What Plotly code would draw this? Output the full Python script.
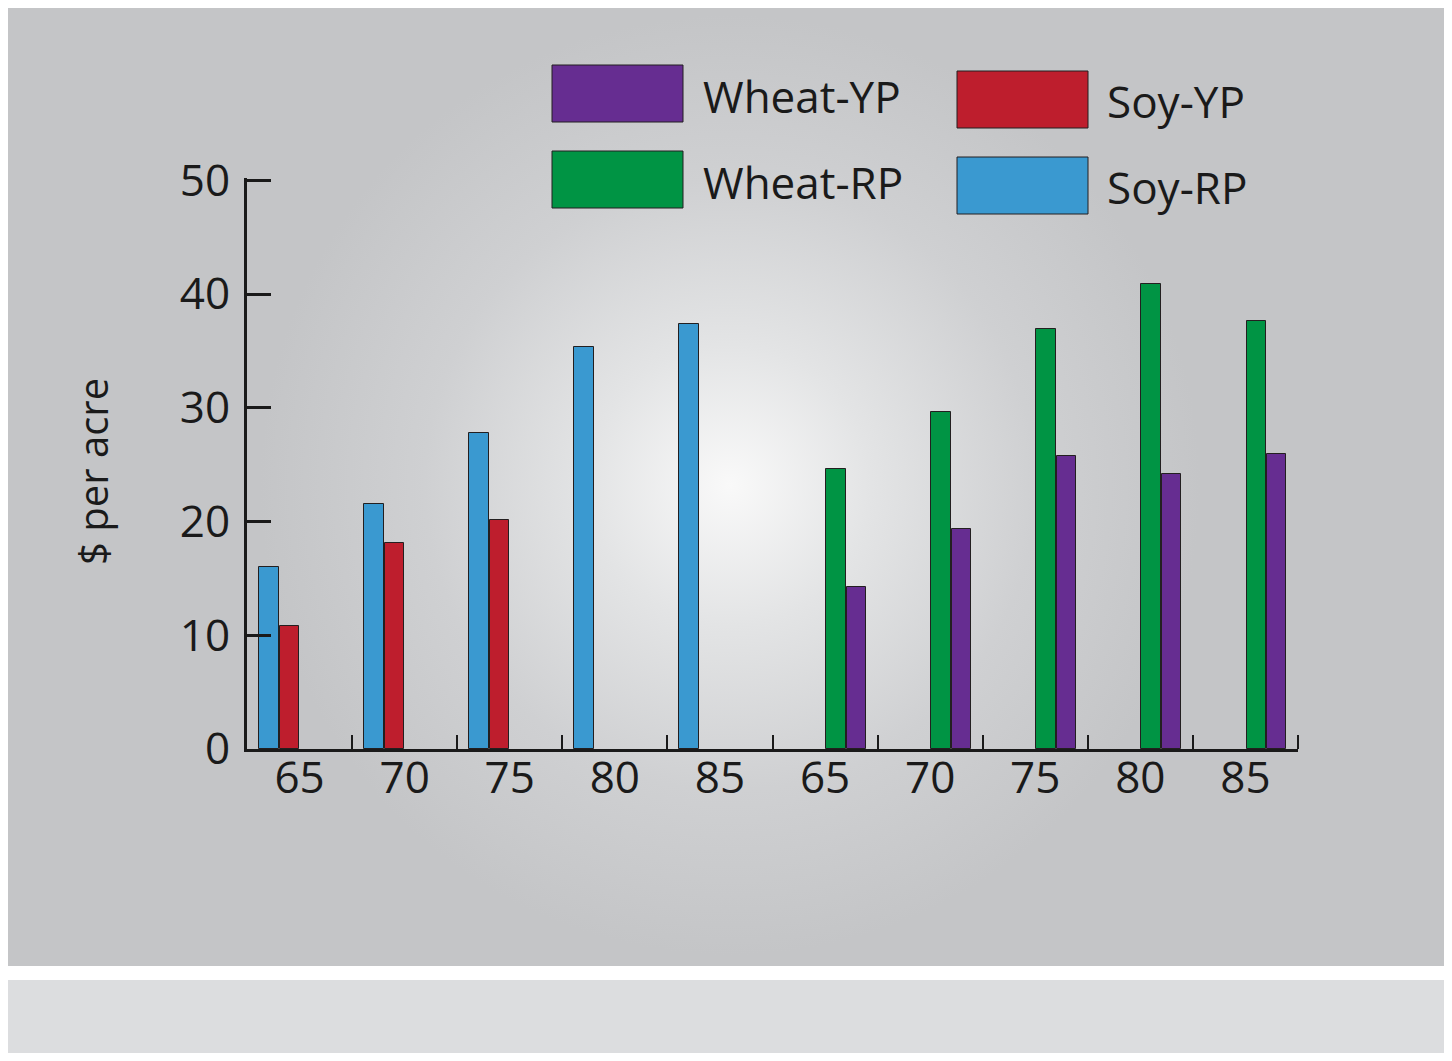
import base64
import plotly.graph_objects as go

# data ($ per acre)
years = ["65", "70", "75", "80", "85", "65", "70", "75", "80", "85"]
soy_groups = [0, 1, 2, 3, 4]
wheat_groups = [5, 6, 7, 8, 9]
soy_rp = [16.0, 21.5, 27.8, 35.3, 37.4]
soy_yp = [10.8, 18.1, 20.1, None, None]
wheat_rp = [24.6, 29.6, 36.9, 40.9, 37.6]
wheat_yp = [14.2, 19.3, 25.8, 24.2, 25.9]

colors = {"Wheat-YP": "#662d91", "Wheat-RP": "#009444",
          "Soy-YP": "#be1e2d", "Soy-RP": "#3a99d0"}

W, H = 1436, 1045          # page minus the 8px body margin
L, R, T, B = 239, 146, 170, 304
pw, ph = W - L - R, H - T - B
FONT = "Open Sans"
INK = "#1a1a1a"


def px(x, y):
    # page pixel -> paper coords
    return (x - 8 - L) / pw, (H - B - (y - 8)) / ph


fig = go.Figure()

def bars(xs, ys, name, offset):
    fig.add_trace(go.Bar(x=xs, y=ys, name=name, width=0.185, offset=offset,
                         marker=dict(color=colors[name], line=dict(color="#231f20", width=1)),
                         showlegend=False))

# soy pairs sit left of the label, wheat pairs right of it
bars(soy_groups, soy_rp, "Soy-RP", -0.385)
bars(soy_groups, soy_yp, "Soy-YP", -0.19)
bars(wheat_groups, wheat_rp, "Wheat-RP", 0.01)
bars(wheat_groups, wheat_yp, "Wheat-YP", 0.205)

# radial grey background as an svg image
svg = ('<svg xmlns="http://www.w3.org/2000/svg" width="1440" height="960">'
       '<defs><radialGradient id="g" gradientUnits="userSpaceOnUse" cx="724" cy="479" r="470">'
       '<stop offset="0" stop-color="#f9f9f9"/><stop offset="0.3" stop-color="#e3e4e5"/>'
       '<stop offset="0.65" stop-color="#cfd0d2"/><stop offset="1" stop-color="#c4c5c7"/>'
       '</radialGradient></defs><rect width="1440" height="960" fill="url(#g)"/></svg>')
src = "data:image/svg+xml;base64," + base64.b64encode(svg.encode()).decode()
x0, y0 = px(6, 6)
x1, y1 = px(1446, 966)
fig.add_layout_image(source=src, xref="paper", yref="paper", x=x0, y=y0,
                     sizex=x1 - x0, sizey=y0 - y1, xanchor="left", yanchor="top",
                     sizing="stretch", layer="below")

# lower light band
bx0, by0 = px(6, 980)
bx1, by1 = px(1446, 1061)
fig.add_shape(type="rect", xref="paper", yref="paper", x0=bx0, x1=bx1, y0=by0, y1=by1,
              fillcolor="#dcdddf", line=dict(width=0), layer="below")

# legend drawn by hand: big swatches
legend = [("Wheat-YP", 552, 65, 701, 96), ("Wheat-RP", 552, 151, 701, 182),
          ("Soy-YP", 957, 71, 1105, 101), ("Soy-RP", 957, 157, 1105, 187)]
for name, sx, sy, tx, ty in legend:
    a0, b0 = px(sx, sy)
    a1, b1 = px(sx + 131, sy + 57)
    fig.add_shape(type="rect", xref="paper", yref="paper", x0=a0, x1=a1, y0=b1, y1=b0,
                  fillcolor=colors[name], line=dict(color="#231f20", width=1))
    ax, ay = px(tx, ty)
    fig.add_annotation(text=name, xref="paper", yref="paper", x=ax, y=ay,
                       xanchor="left", yanchor="middle", showarrow=False,
                       font=dict(family=FONT, size=44, color=INK))

# y title
tx, ty = px(92, 472)
fig.add_annotation(text="$ per acre", xref="paper", yref="paper", x=tx, y=ty,
                   textangle=-90, showarrow=False, xanchor="center", yanchor="middle",
                   font=dict(family=FONT, size=40, color=INK))

fig.update_layout(
    width=W, height=H, margin=dict(l=L, r=R, t=T, b=B, pad=0),
    paper_bgcolor="white", plot_bgcolor="rgba(0,0,0,0)",
    barmode="overlay", bargap=0,
    font=dict(family=FONT, size=44, color=INK),
)
fig.update_xaxes(range=[-0.5, 9.5], tickmode="array", tickvals=list(range(10)), ticktext=years,
                 ticks="", ticklen=0, showgrid=False, zeroline=False, showline=True,
                 linecolor=INK, linewidth=3, ticklabelstandoff=-12,
                 minor=dict(tickmode="array", tickvals=[i + 0.5 for i in range(10)], ticks="inside",
                            ticklen=14, tickwidth=2, tickcolor=INK, showgrid=False))
fig.update_yaxes(range=[0, 50.2], tickvals=[0, 10, 20, 30, 40, 50], ticks="inside", ticklen=24,
                 tickwidth=3, tickcolor=INK, showgrid=False, zeroline=False, showline=True,
                 linecolor=INK, linewidth=3, ticklabelstandoff=5)

fig.write_html("out.html")
